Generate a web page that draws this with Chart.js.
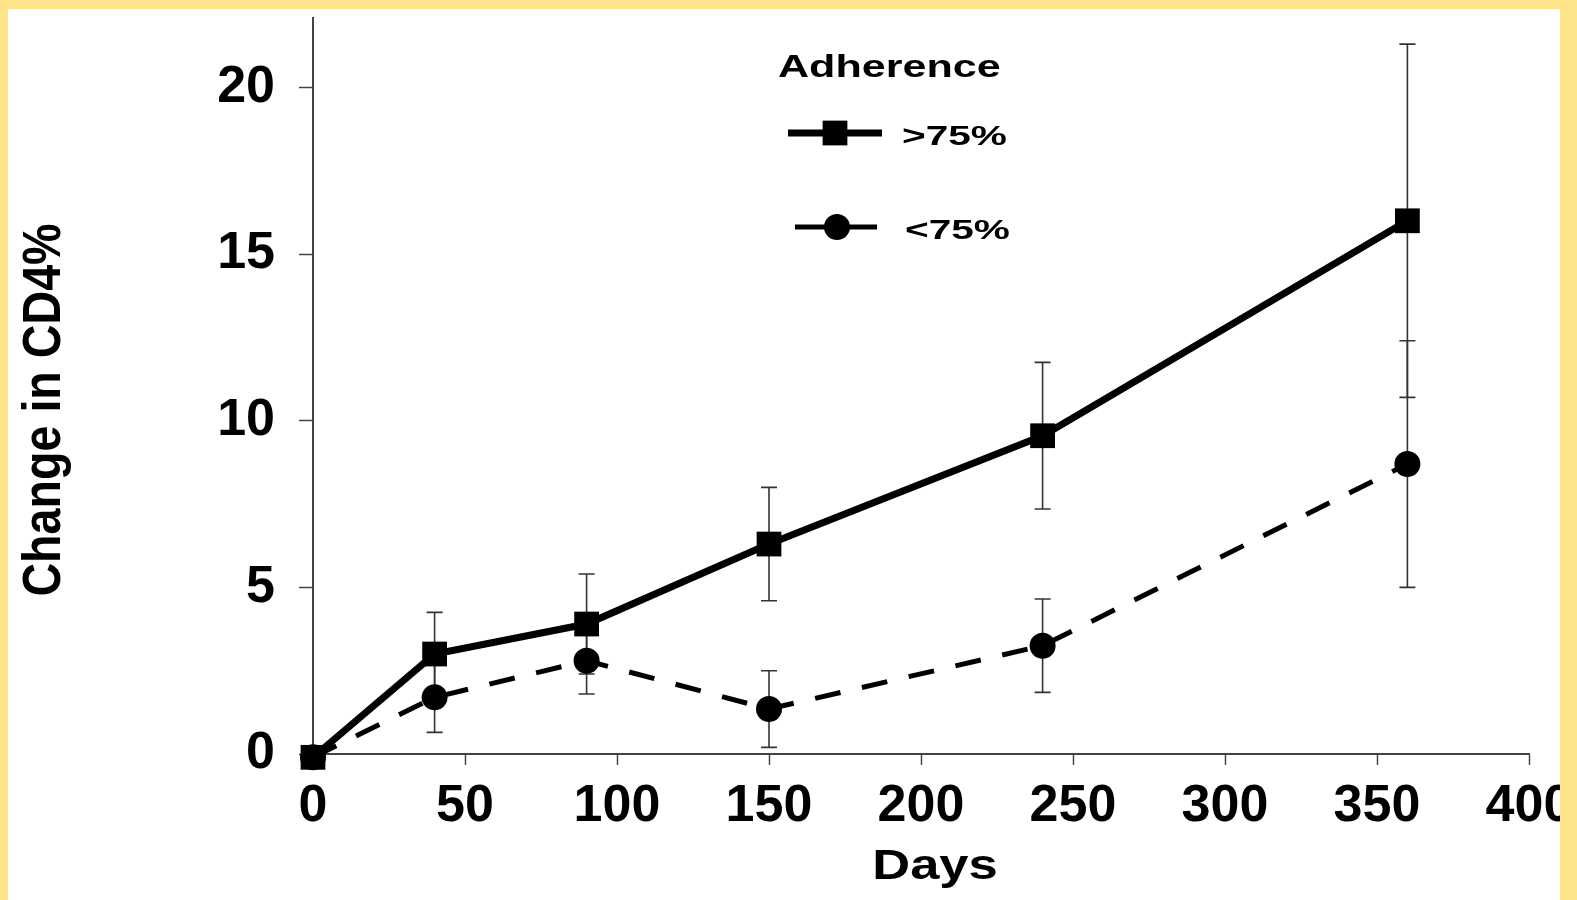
<!DOCTYPE html>
<html>
<head>
<meta charset="utf-8">
<title>Change in CD4% by adherence</title>
<script src="https://cdn.jsdelivr.net/npm/chart.js@4.4.1/dist/chart.umd.min.js"></script>
<style>
  html, body { margin: 0; padding: 0; background: #fff; }
  #wrap { position: relative; width: 1577px; height: 900px; overflow: hidden; background: #fff; }
  #cd4Chart { position: absolute; left: 0; top: 0; }
  .edge { position: absolute; background: #fde48b; }
</style>
</head>
<body>
<div id="wrap">
  <canvas id="cd4Chart" width="1577" height="900"></canvas>
  <div class="edge" style="left:0;top:0;width:1577px;height:9px"></div>
  <div class="edge" style="left:0;top:0;width:8px;height:900px"></div>
  <div class="edge" style="left:1560px;top:0;width:17px;height:900px"></div>
</div>
<script>
    // data
    const days = [0, 40, 90, 150, 240, 360];

    const highMean = [-0.1, 3.0, 3.9, 6.3, 9.55, 16.0];   // adherence >75%
    const highErr  = [0, 1.25, 1.5, 1.7, 2.2, 5.3];

    const lowMean  = [-0.1, 1.7, 2.8, 1.35, 3.25, 8.7];    // adherence <75%
    const lowErr   = [0, 1.05, 1.0, 1.15, 1.4, 3.7];

    const xTicks = [0, 50, 100, 150, 200, 250, 300, 350, 400];
    const yTicks = [0, 5, 10, 15, 20];

    const seriesNames = [">75%", "<75%"];
    const legendTitle = "Adherence";
    const xTitle = "Days";
    const yTitle = "Change in CD4%";

    const toPoints = (ys) => days.map((d, i) => ({ x: d, y: ys[i] }));

    // error bars, drawn from the scales
    const errorBarPlugin = {
        id: "errorBars",
        beforeDatasetsDraw(chart) {
            const { ctx, scales: { x, y } } = chart;
            ctx.save();
            ctx.strokeStyle = "#333";
            ctx.lineWidth = 1.6;
            chart.data.datasets.forEach((ds) => {
                ds.data.forEach((p, i) => {
                    const e = ds.errorBars[i];
                    if (!e) return;
                    const px = x.getPixelForValue(p.x);
                    const top = y.getPixelForValue(p.y + e);
                    const bot = y.getPixelForValue(p.y - e);
                    ctx.beginPath();
                    ctx.moveTo(px, top); ctx.lineTo(px, bot);
                    ctx.moveTo(px - 8, top); ctx.lineTo(px + 8, top);
                    ctx.moveTo(px - 8, bot); ctx.lineTo(px + 8, bot);
                    ctx.stroke();
                });
            });
            ctx.restore();
        }
    };

    // axis titles and the legend box inside the plot
    function stretchedText(ctx, text, x, y, sx, sy, align) {
        ctx.save();
        ctx.scale(sx, sy);
        ctx.textAlign = align;
        ctx.fillText(text, x / sx, y / sy);
        ctx.restore();
    }

    const labelsPlugin = {
        id: "labels",
        afterDraw(chart) {
            const ctx = chart.ctx;
            ctx.save();
            ctx.fillStyle = "#000";
            ctx.textBaseline = "alphabetic";

            // y title
            ctx.save();
            ctx.translate(60, 410);
            ctx.rotate(-Math.PI / 2);
            ctx.scale(0.88, 1);
            ctx.font = "bold 53px 'Liberation Sans', Arial, sans-serif";
            ctx.textAlign = "center";
            ctx.fillText(yTitle, 0, 0);
            ctx.restore();

            // x title
            ctx.font = "bold 42px 'Liberation Sans', Arial, sans-serif";
            stretchedText(ctx, xTitle, 935, 879, 1.25, 1, "center");

            // legend
            ctx.font = "bold 31px 'Liberation Sans', Arial, sans-serif";
            stretchedText(ctx, legendTitle, 778, 77, 1.39, 1, "left");

            const rows = [
                { y: 133, x0: 788, x1: 882, mx: 835, tx: 902 },
                { y: 227, x0: 795, x1: 877, mx: 837, tx: 905 }
            ];
            chart.data.datasets.forEach((ds, i) => {
                const r = rows[i];
                ctx.strokeStyle = ds.borderColor;
                ctx.lineWidth = ds.borderWidth;
                ctx.beginPath();
                ctx.moveTo(r.x0, r.y); ctx.lineTo(r.x1, r.y);
                ctx.stroke();
                ctx.fillStyle = ds.pointBackgroundColor;
                Chart.helpers.drawPoint(ctx, {
                    pointStyle: ds.pointStyle, radius: ds.pointRadius,
                    rotation: 0, borderWidth: 0
                }, r.mx, r.y);
                ctx.fillStyle = "#000";
                ctx.font = "bold 28px 'Liberation Sans', Arial, sans-serif";
                stretchedText(ctx, ds.label, r.tx, r.y + 12, 1.45, 1, "left");
            });
            ctx.restore();
        }
    };

    const tickFont = { family: "'Liberation Sans', Arial, sans-serif", size: 52, weight: "bold" };

    const ctx = document.getElementById("cd4Chart").getContext("2d");
    new Chart(ctx, {
        type: "line",
        data: {
            datasets: [
                {
                    label: seriesNames[0],
                    data: toPoints(highMean),
                    errorBars: highErr,
                    borderColor: "#000",
                    borderWidth: 7,
                    pointStyle: "rect",
                    pointRadius: 17.5,
                    pointBackgroundColor: "#000",
                    pointBorderWidth: 0,
                    tension: 0,
                    clip: false
                },
                {
                    label: seriesNames[1],
                    data: toPoints(lowMean),
                    errorBars: lowErr,
                    borderColor: "#000",
                    borderWidth: 5,
                    borderDash: [26, 22],
                    pointStyle: "circle",
                    pointRadius: 13,
                    pointBackgroundColor: "#000",
                    pointBorderWidth: 0,
                    tension: 0,
                    clip: false
                }
            ]
        },
        options: {
            responsive: false,
            devicePixelRatio: 1,
            animation: false,
            layout: { padding: { top: 14, right: 48, left: 0, bottom: 0 } },
            plugins: {
                legend: { display: false },
                tooltip: { enabled: false }
            },
            scales: {
                x: {
                    type: "linear",
                    min: 0,
                    max: 400,
                    afterBuildTicks: (s) => { s.ticks = xTicks.map(v => ({ value: v })); },
                    afterFit: (s) => { s.height = 146; s.paddingLeft = 0; s.paddingRight = 0; },
                    grid: { drawOnChartArea: false, drawTicks: true, tickLength: 11, tickColor: "#444", tickWidth: 1.5 },
                    border: { display: true, color: "#444", width: 2 },
                    ticks: { color: "#000", font: tickFont, padding: 10, maxRotation: 0, autoSkip: false }
                },
                y: {
                    type: "linear",
                    min: 0,
                    max: 22.1,
                    afterBuildTicks: (s) => { s.ticks = yTicks.map(v => ({ value: v })); },
                    afterFit: (s) => { s.width = 313; s.paddingTop = 0; s.paddingBottom = 0; },
                    grid: { drawOnChartArea: false, drawTicks: true, tickLength: 14, tickColor: "#444", tickWidth: 1.5 },
                    border: { display: true, color: "#444", width: 2 },
                    ticks: { color: "#000", font: tickFont, padding: 24 }
                }
            }
        },
        plugins: [errorBarPlugin, labelsPlugin]
    });
</script>
</body>
</html>
